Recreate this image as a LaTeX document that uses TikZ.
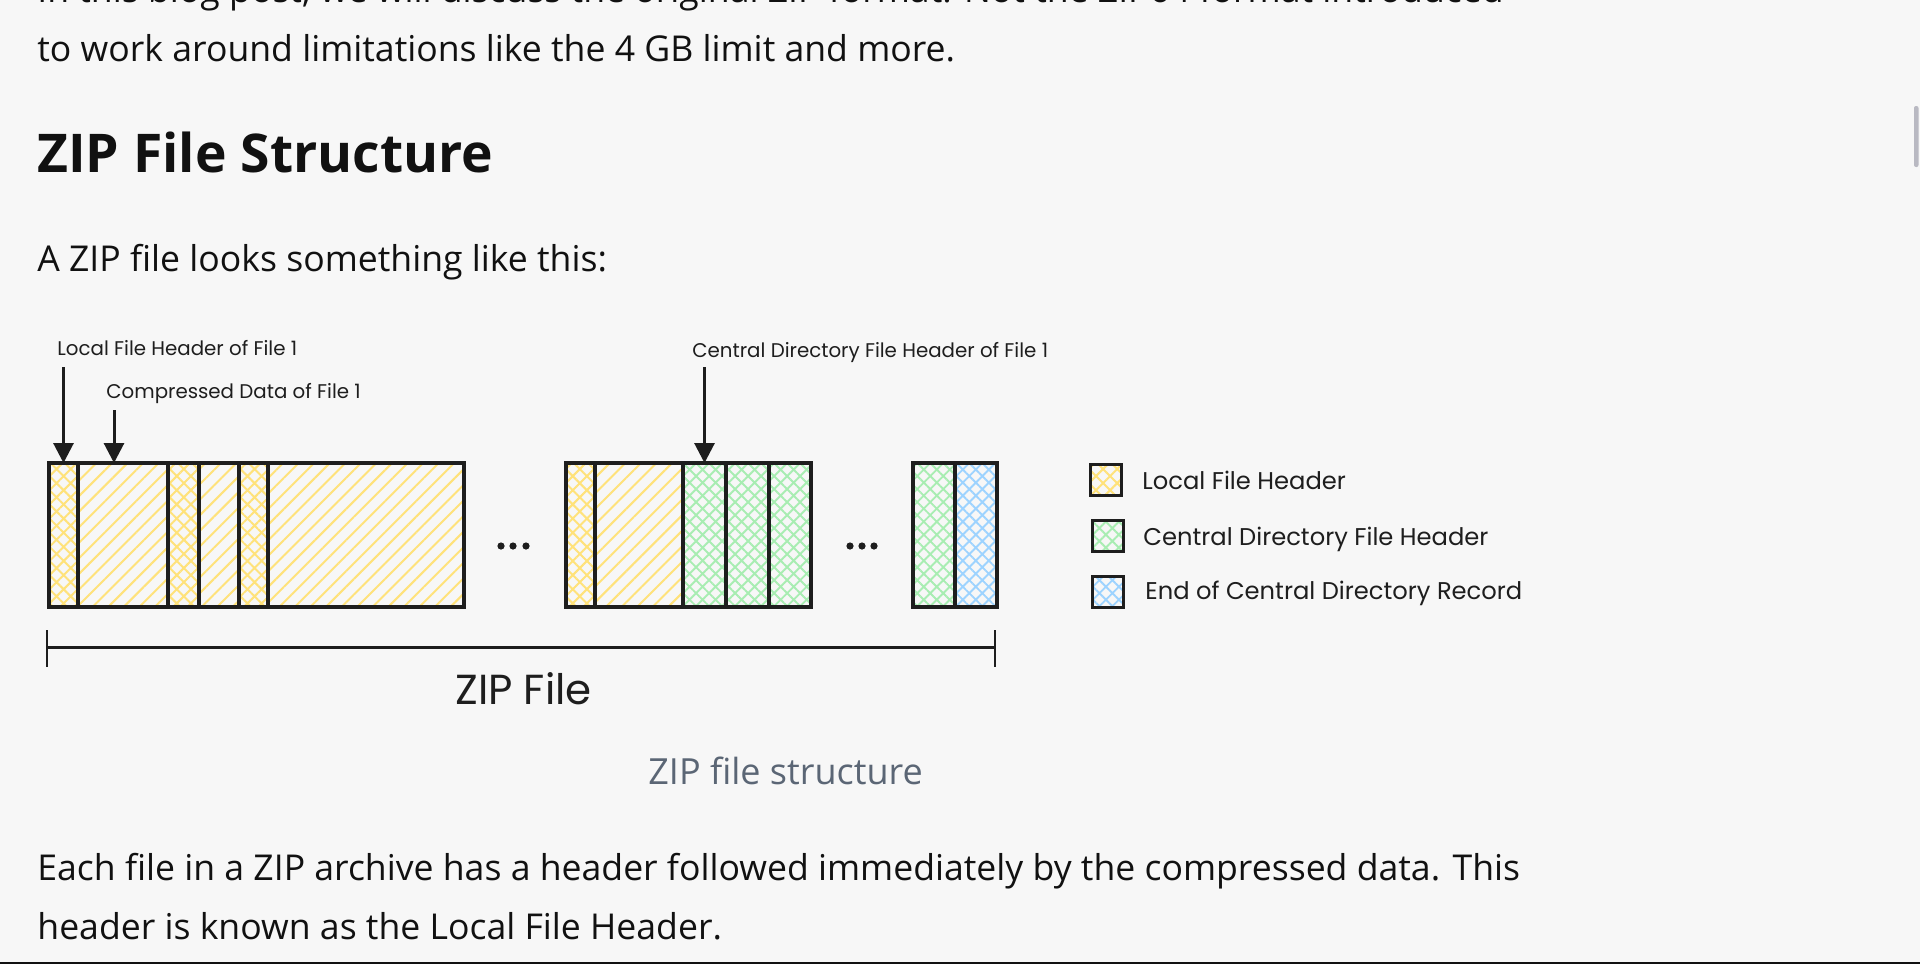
\documentclass[tikz,border=0pt]{standalone}
\usepackage{fontspec}
\setmainfont{Open Sans}
\newfontfamily\hand{Poppins}
\usetikzlibrary{patterns.meta,arrows.meta}
\definecolor{bgc}{HTML}{F7F7F7}
\definecolor{ink}{HTML}{1E1E1E}
\definecolor{txt}{HTML}{111111}
\definecolor{capc}{HTML}{5B6675}
\definecolor{yel}{HTML}{FFE27A}
\definecolor{grn}{HTML}{A8EDB2}
\definecolor{blu}{HTML}{9DD3FF}
\definecolor{scroll}{HTML}{B9B9C2}
\tikzset{
  body/.style={anchor=base west,inner sep=0pt,text=txt,font=\fontsize{17.8}{20}\selectfont},
  head/.style={anchor=base west,inner sep=0pt,text=txt,font=\bfseries\fontsize{26.7}{30}\selectfont},
  capt/.style={anchor=base west,inner sep=0pt,text=capc,font=\fontsize{18}{20}\selectfont},
  lbl/.style={anchor=base west,inner sep=0pt,text=ink,font=\hand\fontsize{9.9}{11}\selectfont},
  leg/.style={anchor=base west,inner sep=0pt,text=ink,font=\hand\fontsize{12.1}{14}\selectfont},
  big/.style={anchor=base west,inner sep=0pt,text=ink,font=\hand\fontsize{21}{24}\selectfont},
  segbase/.style={draw=ink,line width=1.6pt,inner sep=0pt,outer sep=0pt,minimum height=72pt},
  lfh/.style={pattern={Hatch[angle=45,distance=5pt,line width=1pt]},pattern color=yel},
  dat/.style={pattern={Lines[angle=45,distance=5.5pt,line width=1pt]},pattern color=yel},
  cdh/.style={pattern={Hatch[angle=45,distance=4.6pt,line width=0.95pt]},pattern color=grn},
  eocd/.style={pattern={Hatch[angle=45,distance=4.6pt,line width=0.95pt]},pattern color=blu},
  legbox/.style={draw=ink,line width=1.5pt,inner sep=0pt,minimum width=15.5pt,minimum height=15.5pt},
  arr/.style={draw=ink,line width=1.5pt,-{Triangle[length=10pt,width=10pt]}},
  dot/.style={fill=ink,circle,inner sep=0pt,minimum size=3.6pt},
}
\newcommand\segm[4]{\node[segbase,#4,minimum width={(#3-#2)*0.5pt}] (#1) at ({(#2+#3)/2},535) {};}
\begin{document}
\begin{tikzpicture}[x=0.5pt,y=-0.5pt]
\useasboundingbox (0,0) rectangle (1920,964);
\fill[bgc] (0,0) rectangle (1920,964);
\begin{scope}
\clip (0,0) rectangle (1920,964);
\node[body] (t0) at (37,2) {In this blog post, we will discuss the original ZIP format. Not the ZIP64 format introduced};
\node[body] (t1) at (37,61) {to work around limitations like the 4 GB limit and more.};
\node[head] (h1) at (37,172) {ZIP File Structure};
\node[body] (t2) at (37,271) {A ZIP file looks something like this:};

% segments group 1
\segm{a1}{49}{78}{lfh}
\segm{a2}{78}{168}{dat}
\segm{a3}{168}{199}{lfh}
\segm{a4}{199}{239}{dat}
\segm{a5}{239}{268}{lfh}
\segm{a6}{268}{464}{dat}
% group 2
\segm{b1}{566}{595}{lfh}
\segm{b2}{595}{683}{dat}
\segm{b3}{683}{726}{cdh}
\segm{b4}{726}{769}{cdh}
\segm{b5}{769}{811}{cdh}
% group 3
\segm{c1}{913}{955}{cdh}
\segm{c2}{955}{997}{eocd}

% dots
\foreach \x/\n in {501/d1,513/d2,526/d3,850/e1,862/e2,874/e3} \node[dot] (\n) at (\x,546) {};

% labels and arrows
\node[lbl] (l1) at (57,355) {Local File Header of File 1};
\node[lbl] (l2) at (106,398) {Compressed Data of File 1};
\node[lbl] (l3) at (692,357) {Central Directory File Header of File 1};
\coordinate (s1) at (63.5,367);
\coordinate (s2) at (114,410);
\coordinate (s3) at (704.5,367);
\coordinate (e2t) at (114,463);
\draw[arr] (s1) -- (a1.north);
\draw[arr] (s2) -- (e2t);
\draw[arr] (s3) -- (b3.north);

% size bracket
\coordinate (zl) at (47,647);
\coordinate (zr) at (995,647);
\draw[ink,line width=1.5pt] (zl) -- (zr);
\draw[ink,line width=1.2pt] ([yshift=8.5pt]zl) -- ([yshift=-10pt]zl);
\draw[ink,line width=1.2pt] ([yshift=8.5pt]zr) -- ([yshift=-10pt]zr);
\node[big] (zf) at (455,704) {ZIP File};

% legend
\node[legbox,lfh] (k1) at (1106,479.5) {};
\node[legbox,cdh] (k2) at (1107.5,535.5) {};
\node[legbox,eocd] (k3) at (1108,592) {};
\node[leg] (k1t) at (1142,489) {Local File Header};
\node[leg] (k2t) at (1143,545) {Central Directory File Header};
\node[leg] (k3t) at (1145,599) {End of Central Directory Record};

\node[capt] (cap) at (648,784) {ZIP file structure};

\node[body] (t3) at (37,880) {Each file in a ZIP archive has a header followed immediately by the compressed data. This};
\node[body] (t4) at (37,939) {header is known as the Local File Header.};

% scrollbar and bottom edge
\fill[scroll,rounded corners=1pt] (1914,106) rectangle (1918.5,167);
\fill[txt] (0,962) rectangle (1920,964);
\end{scope}
\end{tikzpicture}
\end{document}
